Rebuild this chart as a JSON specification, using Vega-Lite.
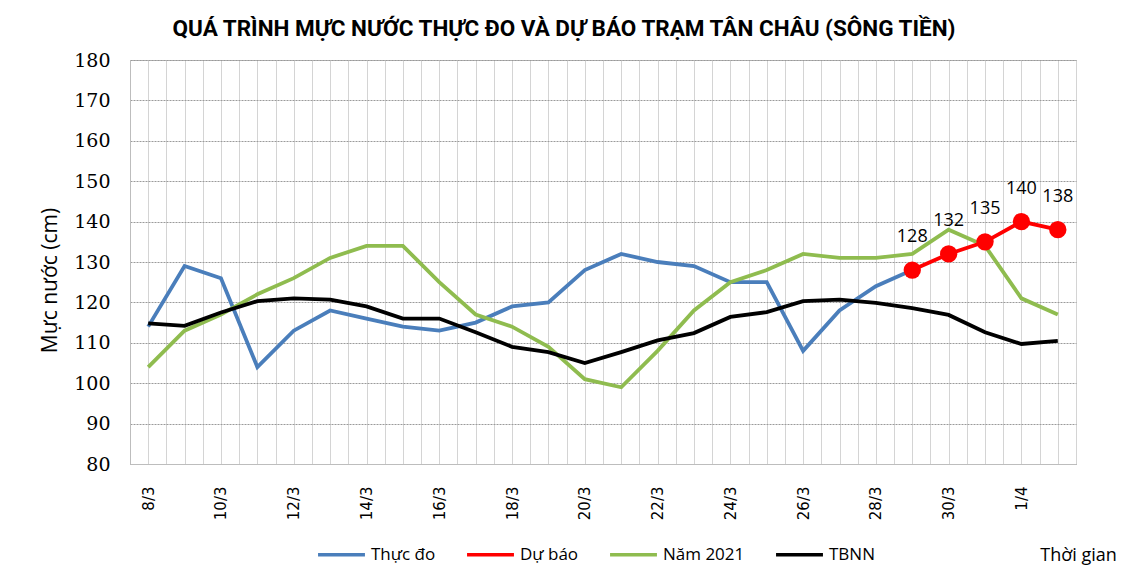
{
  "$schema": "https://vega.github.io/schema/vega-lite/v6.json",
  "width": 946,
  "height": 404,
  "autosize": {"type": "none"},
  "padding": {"left": 130, "top": 60, "right": 65, "bottom": 108},
  "background": "white",
  "title": {
    "text": "QUÁ TRÌNH MỰC NƯỚC THỰC ĐO VÀ DỰ BÁO TRẠM TÂN CHÂU (SÔNG TIỀN)",
    "font": "Roboto",
    "fontSize": 22.5,
    "fontWeight": "bold",
    "color": "#000000",
    "anchor": "middle",
    "dx": -39,
    "offset": 11
  },
  "datasets": {
    "levels": [
      {"d": 0, "ngay": "8/3", "series": "Thực đo", "v": 114},
      {"d": 1, "ngay": "9/3", "series": "Thực đo", "v": 129},
      {"d": 2, "ngay": "10/3", "series": "Thực đo", "v": 126},
      {"d": 3, "ngay": "11/3", "series": "Thực đo", "v": 104},
      {"d": 4, "ngay": "12/3", "series": "Thực đo", "v": 113},
      {"d": 5, "ngay": "13/3", "series": "Thực đo", "v": 118},
      {"d": 6, "ngay": "14/3", "series": "Thực đo", "v": 116},
      {"d": 7, "ngay": "15/3", "series": "Thực đo", "v": 114},
      {"d": 8, "ngay": "16/3", "series": "Thực đo", "v": 113},
      {"d": 9, "ngay": "17/3", "series": "Thực đo", "v": 115},
      {"d": 10, "ngay": "18/3", "series": "Thực đo", "v": 119},
      {"d": 11, "ngay": "19/3", "series": "Thực đo", "v": 120},
      {"d": 12, "ngay": "20/3", "series": "Thực đo", "v": 128},
      {"d": 13, "ngay": "21/3", "series": "Thực đo", "v": 132},
      {"d": 14, "ngay": "22/3", "series": "Thực đo", "v": 130},
      {"d": 15, "ngay": "23/3", "series": "Thực đo", "v": 129},
      {"d": 16, "ngay": "24/3", "series": "Thực đo", "v": 125},
      {"d": 17, "ngay": "25/3", "series": "Thực đo", "v": 125},
      {"d": 18, "ngay": "26/3", "series": "Thực đo", "v": 108},
      {"d": 19, "ngay": "27/3", "series": "Thực đo", "v": 118},
      {"d": 20, "ngay": "28/3", "series": "Thực đo", "v": 124},
      {"d": 21, "ngay": "29/3", "series": "Thực đo", "v": 128},

      {"d": 21, "ngay": "29/3", "series": "Dự báo", "v": 128},
      {"d": 22, "ngay": "30/3", "series": "Dự báo", "v": 132},
      {"d": 23, "ngay": "31/3", "series": "Dự báo", "v": 135},
      {"d": 24, "ngay": "1/4", "series": "Dự báo", "v": 140},
      {"d": 25, "ngay": "2/4", "series": "Dự báo", "v": 138},

      {"d": 0, "ngay": "8/3", "series": "Năm 2021", "v": 104},
      {"d": 1, "ngay": "9/3", "series": "Năm 2021", "v": 113},
      {"d": 2, "ngay": "10/3", "series": "Năm 2021", "v": 117},
      {"d": 3, "ngay": "11/3", "series": "Năm 2021", "v": 122},
      {"d": 4, "ngay": "12/3", "series": "Năm 2021", "v": 126},
      {"d": 5, "ngay": "13/3", "series": "Năm 2021", "v": 131},
      {"d": 6, "ngay": "14/3", "series": "Năm 2021", "v": 134},
      {"d": 7, "ngay": "15/3", "series": "Năm 2021", "v": 134},
      {"d": 8, "ngay": "16/3", "series": "Năm 2021", "v": 125},
      {"d": 9, "ngay": "17/3", "series": "Năm 2021", "v": 117},
      {"d": 10, "ngay": "18/3", "series": "Năm 2021", "v": 114},
      {"d": 11, "ngay": "19/3", "series": "Năm 2021", "v": 109},
      {"d": 12, "ngay": "20/3", "series": "Năm 2021", "v": 101},
      {"d": 13, "ngay": "21/3", "series": "Năm 2021", "v": 99},
      {"d": 14, "ngay": "22/3", "series": "Năm 2021", "v": 108},
      {"d": 15, "ngay": "23/3", "series": "Năm 2021", "v": 118},
      {"d": 16, "ngay": "24/3", "series": "Năm 2021", "v": 125},
      {"d": 17, "ngay": "25/3", "series": "Năm 2021", "v": 128},
      {"d": 18, "ngay": "26/3", "series": "Năm 2021", "v": 132},
      {"d": 19, "ngay": "27/3", "series": "Năm 2021", "v": 131},
      {"d": 20, "ngay": "28/3", "series": "Năm 2021", "v": 131},
      {"d": 21, "ngay": "29/3", "series": "Năm 2021", "v": 132},
      {"d": 22, "ngay": "30/3", "series": "Năm 2021", "v": 138},
      {"d": 23, "ngay": "31/3", "series": "Năm 2021", "v": 134},
      {"d": 24, "ngay": "1/4", "series": "Năm 2021", "v": 121},
      {"d": 25, "ngay": "2/4", "series": "Năm 2021", "v": 117},

      {"d": 0, "ngay": "8/3", "series": "TBNN", "v": 114.8},
      {"d": 1, "ngay": "9/3", "series": "TBNN", "v": 114.2},
      {"d": 2, "ngay": "10/3", "series": "TBNN", "v": 117.5},
      {"d": 3, "ngay": "11/3", "series": "TBNN", "v": 120.3},
      {"d": 4, "ngay": "12/3", "series": "TBNN", "v": 121},
      {"d": 5, "ngay": "13/3", "series": "TBNN", "v": 120.7},
      {"d": 6, "ngay": "14/3", "series": "TBNN", "v": 119},
      {"d": 7, "ngay": "15/3", "series": "TBNN", "v": 116},
      {"d": 8, "ngay": "16/3", "series": "TBNN", "v": 116},
      {"d": 9, "ngay": "17/3", "series": "TBNN", "v": 112.6},
      {"d": 10, "ngay": "18/3", "series": "TBNN", "v": 109},
      {"d": 11, "ngay": "19/3", "series": "TBNN", "v": 107.7},
      {"d": 12, "ngay": "20/3", "series": "TBNN", "v": 105},
      {"d": 13, "ngay": "21/3", "series": "TBNN", "v": 107.7},
      {"d": 14, "ngay": "22/3", "series": "TBNN", "v": 110.6},
      {"d": 15, "ngay": "23/3", "series": "TBNN", "v": 112.4},
      {"d": 16, "ngay": "24/3", "series": "TBNN", "v": 116.4},
      {"d": 17, "ngay": "25/3", "series": "TBNN", "v": 117.6},
      {"d": 18, "ngay": "26/3", "series": "TBNN", "v": 120.3},
      {"d": 19, "ngay": "27/3", "series": "TBNN", "v": 120.7},
      {"d": 20, "ngay": "28/3", "series": "TBNN", "v": 119.9},
      {"d": 21, "ngay": "29/3", "series": "TBNN", "v": 118.6},
      {"d": 22, "ngay": "30/3", "series": "TBNN", "v": 116.9},
      {"d": 23, "ngay": "31/3", "series": "TBNN", "v": 112.6},
      {"d": 24, "ngay": "1/4", "series": "TBNN", "v": 109.7},
      {"d": 25, "ngay": "2/4", "series": "TBNN", "v": 110.5}
    ]
  },
  "data": {"name": "levels"},
  "encoding": {
    "x": {
      "field": "d",
      "type": "quantitative",
      "scale": {"domain": [-0.5, 25.5], "nice": false, "zero": false},
      "axis": {
        "title": "Thời gian",
        "titleFont": "Open Sans",
        "titleFontSize": 18,
        "titleFontWeight": "normal",
        "titleColor": "#000000",
        "titleX": 948,
        "titleY": 91,
        "titleAlign": "center",
        "titleBaseline": "middle",
        "values": [-0.5, 0, 0.5, 1, 1.5, 2, 2.5, 3, 3.5, 4, 4.5, 5, 5.5, 6, 6.5, 7, 7.5, 8, 8.5, 9, 9.5, 10, 10.5, 11, 11.5, 12, 12.5, 13, 13.5, 14, 14.5, 15, 15.5, 16, 16.5, 17, 17.5, 18, 18.5, 19, 19.5, 20, 20.5, 21, 21.5, 22, 22.5, 23, 23.5, 24, 24.5, 25, 25.5],
        "labelExpr": "(datum.value % 2 == 0 && datum.value >= 0 && datum.value <= 24) ? (datum.value <= 23 ? (datum.value + 8) + '/3' : (datum.value - 23) + '/4') : ''",
        "labelAngle": -90,
        "labelAlign": "right",
        "labelBaseline": "middle",
        "labelPadding": 22,
        "labelFont": "DejaVu Sans",
        "labelFontSize": 15,
        "labelColor": "#000000",
        "labelOverlap": false,
        "labelBound": false,
        "ticks": false,
        "grid": true,
        "gridColor": "#d4d4d4",
        "gridWidth": 1,
        "domainColor": "#bdbdbd"
      }
    },
    "y": {
      "field": "v",
      "type": "quantitative",
      "scale": {"domain": [80, 180], "nice": false, "zero": false},
      "axis": {
        "title": "Mực nước (cm)",
        "titleFont": "Open Sans",
        "titleFontSize": 21,
        "titleFontWeight": "normal",
        "titleColor": "#000000",
        "titleX": -80,
        "titleY": 220,
        "titleAngle": -90,
        "titleAlign": "center",
        "titleBaseline": "middle",
        "values": [80, 90, 100, 110, 120, 130, 140, 150, 160, 170, 180],
        "labelFont": "DejaVu Serif",
        "labelFontSize": 19,
        "labelColor": "#000000",
        "labelPadding": 20,
        "ticks": false,
        "grid": true,
        "gridColor": "#9a9a9a",
        "gridDash": [2, 1],
        "gridWidth": 1,
        "domainColor": "#bdbdbd"
      }
    },
    "color": {
      "field": "series",
      "type": "nominal",
      "scale": {
        "domain": ["Thực đo", "Dự báo", "Năm 2021", "TBNN"],
        "range": ["#4a7ebb", "#ff0000", "#8fbc4f", "#000000"]
      },
      "legend": {
        "title": null,
        "orient": "none",
        "direction": "horizontal",
        "legendX": 186,
        "legendY": 469,
        "symbolType": "stroke",
        "symbolSize": 2200,
        "symbolStrokeWidth": 3.5,
        "labelFont": "Open Sans",
        "labelFontSize": 17,
        "labelColor": "#000000",
        "labelOffset": 4,
        "columnPadding": 24
      }
    }
  },
  "layer": [
    {
      "mark": {"type": "line", "strokeWidth": 3.8},
      "transform": [{"filter": "datum.series != 'Dự báo'"}]
    },
    {
      "mark": {"type": "line", "strokeWidth": 3.8},
      "transform": [{"filter": "datum.series == 'Dự báo'"}]
    },
    {
      "mark": {"type": "point", "filled": true, "opacity": 1, "size": 300},
      "transform": [{"filter": "datum.series == 'Dự báo'"}]
    },
    {
      "mark": {"type": "text", "dy": -33, "font": "Open Sans", "fontSize": 18, "color": "#000000"},
      "transform": [{"filter": "datum.series == 'Dự báo'"}],
      "encoding": {
        "text": {"field": "v", "type": "quantitative"},
        "color": {"value": "#000000"}
      }
    }
  ],
  "config": {
    "view": {"stroke": "#bdbdbd"}
  }
}
